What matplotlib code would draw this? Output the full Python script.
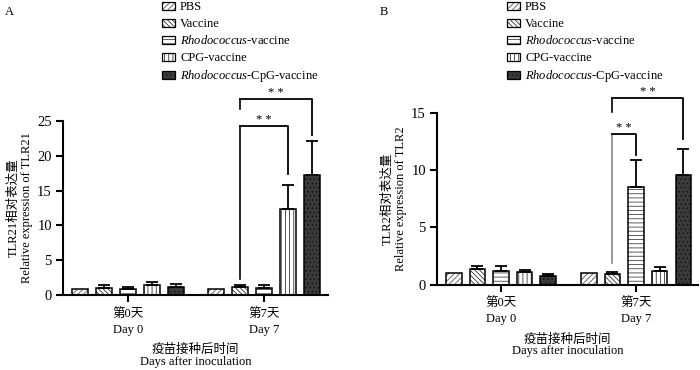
import numpy as np
import matplotlib
matplotlib.use("Agg")
import matplotlib.pyplot as plt
from matplotlib.patches import Patch

plt.rcParams['font.family'] = ['Liberation Serif', 'Noto Sans CJK SC']
plt.rcParams['mathtext.fontset'] = 'custom'
plt.rcParams['mathtext.rm'] = 'Liberation Serif'
plt.rcParams['mathtext.it'] = 'Liberation Serif:italic'
plt.rcParams['font.size'] = 9
plt.rcParams['hatch.linewidth'] = 0.6

# data
groups = ['第0天\nDay 0', '第7天\nDay 7']
series = ['PBS', 'Vaccine', r'$\mathit{Rhodococcus}$-vaccine', 'CPG-vaccine',
          r'$\mathit{Rhodococcus}$-CpG-vaccine']

tlr21_day0 = [0.9, 1.05, 0.8, 1.4, 1.15]
tlr21_day0_err = [0, 0.45, 0.4, 0.45, 0.5]
tlr21_day7 = [0.9, 1.1, 1.0, 12.3, 17.2]
tlr21_day7_err = [0, 0.4, 0.45, 3.45, 4.95]
# (from bar, to bar, top, left leg end, right leg end)
tlr21_brackets = [(1, 3, 24.3, 2.3, 17.45), (1, 4, 28.2, 26.7, 23.0)]

tlr2_day0 = [1.0, 1.32, 1.22, 1.05, 0.75]
tlr2_day0_err = [0, 0.33, 0.42, 0.26, 0.2]
tlr2_day7 = [1.0, 0.9, 8.5, 1.15, 9.62]
tlr2_day7_err = [0, 0.22, 2.35, 0.38, 2.2]
tlr2_brackets = [(1, 2, 13.2, 1.9, 11.3), (1, 4, 16.3, 15.05, 12.75)]

faces = ['white', 'white', 'white', 'white', '#3a3a3a']
hatch_cols = ['#555555', '#333333', '#444444', '#333333', '#151515']
hatches = ['//////', '\\\\\\\\\\\\\\', '----', '||||', '....']


def draw_panel(ax, day0, day0_err, day7, day7_err, brackets, ymax, ylabel,
               step, width, xlim, leg_gray=False):
    x = np.arange(len(groups))
    centers = []
    for i in range(len(series)):
        vals = np.array([day0[i], day7[i]])
        errs = np.array([day0_err[i], day7_err[i]])
        pos = x + (i - 2) * step
        centers.append(pos)
        ax.bar(pos, vals, width, color=faces[i], edgecolor=hatch_cols[i],
               hatch=hatches[i], linewidth=0, zorder=2)
        ax.bar(pos, vals, width, fill=False, edgecolor='black', linewidth=1.1, zorder=3)
        m = errs > 0
        ax.errorbar(pos[m], vals[m], yerr=[np.zeros(m.sum()), errs[m]], fmt='none',
                    ecolor='black', elinewidth=1.3, capsize=4, capthick=1.3, zorder=4)

    for k, (a, b, top, la, lb) in enumerate(brackets):
        xa, xb = centers[a][1], centers[b][1]
        c_left = '#888888' if (leg_gray and k == 0) else 'black'
        ax.plot([xa, xa], [la, top], color=c_left, lw=1.2, clip_on=False, zorder=5)
        ax.plot([xa, xb, xb], [top, top, lb], color='black', lw=1.3, clip_on=False, zorder=5)
        ax.text((xa + xb) / 2, top, '* *', ha='center', va='bottom', fontsize=9,
                clip_on=False)

    ax.set_xlim(*xlim)
    ax.set_ylim(0, ymax)
    ax.set_yticks(np.arange(0, ymax + 1, 5))
    ax.set_xticks(x)
    ax.set_xticklabels(groups, linespacing=1.45)
    ax.spines['top'].set_visible(False)
    ax.spines['right'].set_visible(False)
    ax.spines['left'].set_linewidth(1.5)
    ax.spines['bottom'].set_linewidth(1.5)
    ax.tick_params(axis='both', width=1.5, length=5, pad=3)
    ax.tick_params(axis='x', labelsize=9, pad=4)
    ax.tick_params(axis='y', labelsize=10.5)
    ax.set_ylabel(ylabel, linespacing=1.1, labelpad=3)
    ax.set_xlabel('疫苗接种后时间\nDays after inoculation', linespacing=1.0, labelpad=6)


def legend_handles():
    hs = []
    for i in range(len(series)):
        hs.append((Patch(facecolor=faces[i], edgecolor=hatch_cols[i], hatch=hatches[i], lw=0),
                   Patch(fill=False, edgecolor='black', lw=0.9)))
    return hs


fig = plt.figure(figsize=(7, 3.7), dpi=100)
axA = fig.add_axes([63 / 700, 75 / 370, 265 / 700, 174 / 370])
axB = fig.add_axes([437 / 700, 85.5 / 370, 261 / 700, 171.5 / 370])

draw_panel(axA, tlr21_day0, tlr21_day0_err, tlr21_day7, tlr21_day7_err, tlr21_brackets,
           25, 'TLR21相对表达量\nRelative expression of TLR21', 0.176, 0.118, (-0.478, 1.47))
draw_panel(axB, tlr2_day0, tlr2_day0_err, tlr2_day7, tlr2_day7_err, tlr2_brackets,
           15, 'TLR2相对表达量\nRelative expression of TLR2', 0.175, 0.115, (-0.474, 1.459),
           leg_gray=True)

for xa in (162 / 700, 507 / 700):
    fig.legend(legend_handles(), series, loc='upper left', bbox_to_anchor=(xa, 0.996),
               frameon=False, borderpad=0, borderaxespad=0, handlelength=1.0,
               handleheight=0.6, handletextpad=0.45, labelspacing=0.36, fontsize=9)

fig.text(5 / 700, 1 - 12 / 370, 'A', fontsize=9, va='center')
fig.text(380 / 700, 1 - 12 / 370, 'B', fontsize=9, va='center')

fig.savefig('out.png', dpi=100)
